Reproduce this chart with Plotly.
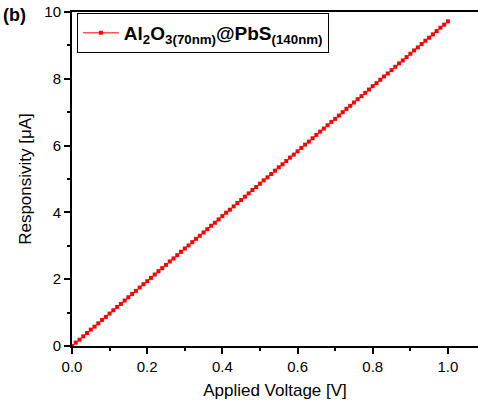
import plotly.graph_objects as go

# Applied bias (V) and measured responsivity (µA)
voltage = [
    0.00, 0.01, 0.02, 0.03, 0.04, 0.05, 0.06, 0.07, 0.08, 0.09,
    0.10, 0.11, 0.12, 0.13, 0.14, 0.15, 0.16, 0.17, 0.18, 0.19,
    0.20, 0.21, 0.22, 0.23, 0.24, 0.25, 0.26, 0.27, 0.28, 0.29,
    0.30, 0.31, 0.32, 0.33, 0.34, 0.35, 0.36, 0.37, 0.38, 0.39,
    0.40, 0.41, 0.42, 0.43, 0.44, 0.45, 0.46, 0.47, 0.48, 0.49,
    0.50, 0.51, 0.52, 0.53, 0.54, 0.55, 0.56, 0.57, 0.58, 0.59,
    0.60, 0.61, 0.62, 0.63, 0.64, 0.65, 0.66, 0.67, 0.68, 0.69,
    0.70, 0.71, 0.72, 0.73, 0.74, 0.75, 0.76, 0.77, 0.78, 0.79,
    0.80, 0.81, 0.82, 0.83, 0.84, 0.85, 0.86, 0.87, 0.88, 0.89,
    0.90, 0.91, 0.92, 0.93, 0.94, 0.95, 0.96, 0.97, 0.98, 0.99,
    1.00,
]
responsivity = [
    0.00, 0.10, 0.19, 0.29, 0.39, 0.49, 0.58, 0.68, 0.78, 0.87,
    0.97, 1.07, 1.17, 1.26, 1.36, 1.46, 1.56, 1.65, 1.75, 1.85,
    1.94, 2.04, 2.14, 2.24, 2.33, 2.43, 2.53, 2.62, 2.72, 2.82,
    2.92, 3.01, 3.11, 3.21, 3.30, 3.40, 3.50, 3.60, 3.69, 3.79,
    3.89, 3.99, 4.08, 4.18, 4.28, 4.37, 4.47, 4.57, 4.67, 4.76,
    4.86, 4.96, 5.05, 5.15, 5.25, 5.35, 5.44, 5.54, 5.64, 5.73,
    5.83, 5.93, 6.03, 6.12, 6.22, 6.32, 6.42, 6.51, 6.61, 6.71,
    6.80, 6.90, 7.00, 7.10, 7.19, 7.29, 7.39, 7.48, 7.58, 7.68,
    7.78, 7.87, 7.97, 8.07, 8.16, 8.26, 8.36, 8.46, 8.55, 8.65,
    8.75, 8.85, 8.94, 9.04, 9.14, 9.23, 9.33, 9.43, 9.53, 9.62,
    9.72,
]
series_name = "<b>Al<sub>2</sub>O<sub>3(70nm)</sub>@PbS<sub>(140nm)</sub></b>"

x_ticks = [0.0, 0.2, 0.4, 0.6, 0.8, 1.0]
y_ticks = [0, 2, 4, 6, 8, 10]

FONT = "Liberation Sans, Arial, sans-serif"

fig = go.Figure()
fig.add_trace(go.Scatter(
    x=voltage, y=responsivity, name=series_name,
    mode="lines+markers",
    line=dict(color="#ff0000", width=1),
    marker=dict(symbol="square", size=4, color="#ff0000", line=dict(width=0)),
))

axis_common = dict(
    showline=True, linecolor="black", linewidth=2,
    ticks="outside", ticklen=6, tickwidth=1.5, tickcolor="black",
    showgrid=False, zeroline=False,
    tickfont=dict(family=FONT, size=15, color="black"),
)

fig.update_xaxes(
    **axis_common,
    range=[0, 1.08], tickvals=x_ticks,
    ticktext=[f"{v:.1f}" for v in x_ticks],
    mirror=True,
    minor=dict(dtick=0.1, ticklen=3, tickwidth=1.5, tickcolor="black", ticks="outside"),
    title=dict(text="Applied Voltage [V]", font=dict(family=FONT, size=17, color="black"),
               standoff=10),
)
fig.update_yaxes(
    **axis_common,
    range=[0, 10], tickvals=y_ticks,
    minor=dict(dtick=1, ticklen=3, tickwidth=1.5, tickcolor="black", ticks="outside"),
    title=dict(text="Responsivity [μA]", font=dict(family=FONT, size=17, color="black"),
               standoff=8),
)

fig.add_annotation(
    text="<b>(b)</b>", xref="paper", yref="paper",
    x=-0.175, y=0.99, xanchor="left", yanchor="middle", showarrow=False,
    font=dict(family=FONT, size=18, color="black"),
)

fig.update_layout(
    width=478, height=406,
    margin=dict(l=72, r=0, t=12, b=60),
    paper_bgcolor="white", plot_bgcolor="white",
    showlegend=True,
    legend=dict(
        x=0.012, y=0.997, xanchor="left", yanchor="top",
        bordercolor="black", borderwidth=1, bgcolor="white",
        font=dict(family=FONT, size=19, color="black"),
        itemwidth=36, tracegroupgap=0,
    ),
)

fig.write_html("out.html")
